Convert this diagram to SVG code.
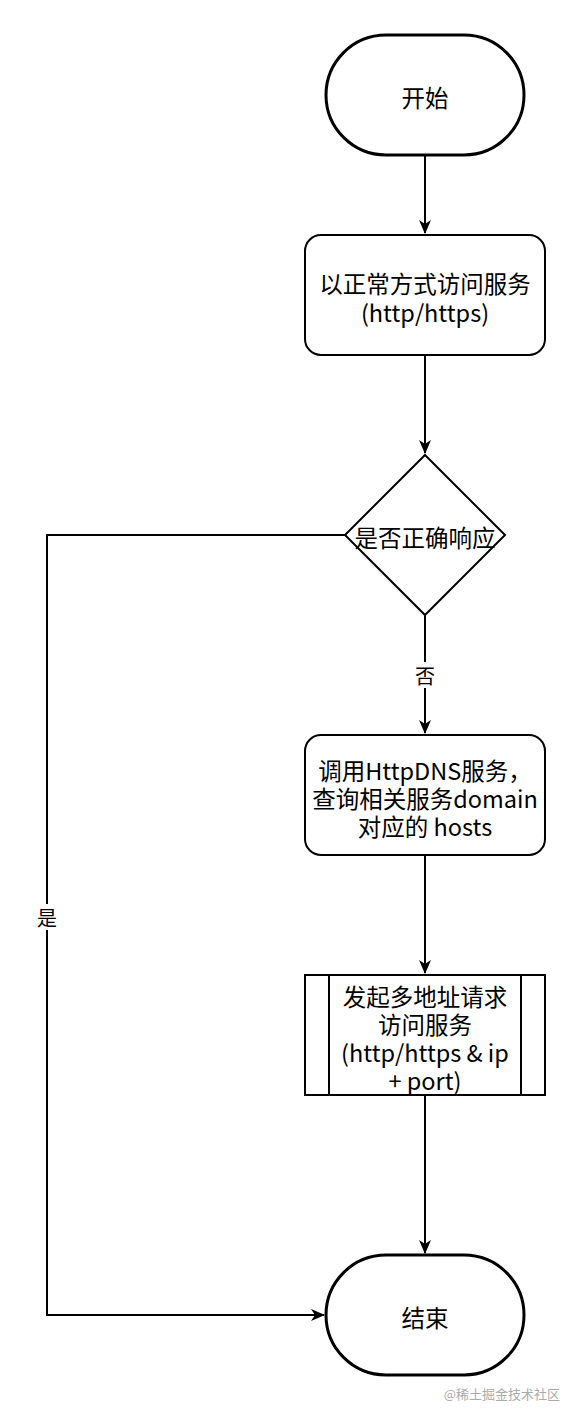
<svg xmlns="http://www.w3.org/2000/svg" width="578" height="1418" viewBox="0 0 578 1418">
<style>
.term{fill:#fff;stroke:#000;stroke-width:3}
.box{fill:#fff;stroke:#000;stroke-width:2}
.edge{fill:none;stroke:#000;stroke-width:2}
text{font-family:"Noto Sans CJK SC","Noto Sans",sans-serif;font-size:23.5px;fill:#000;text-anchor:middle;dominant-baseline:central}
.lbl{font-size:20px}
.wm{font-size:13px;fill:#aaa;text-anchor:end}
</style>
<defs>
<marker id="arr" markerUnits="userSpaceOnUse" markerWidth="14" markerHeight="12" refX="13" refY="6" orient="auto">
<path d="M0,0 L14,6 L0,12 L4,6 z" fill="#000"/>
</marker>
</defs>
<rect width="578" height="1418" fill="#fff"/>
<g id="connectors">
<path class="edge" d="M425,155 V233" marker-end="url(#arr)"/>
<path class="edge" d="M425,355 V453" marker-end="url(#arr)"/>
<path class="edge" d="M425,615 V733" marker-end="url(#arr)"/>
<path class="edge" d="M425,855 V973" marker-end="url(#arr)"/>
<path class="edge" d="M425,1095 V1253" marker-end="url(#arr)"/>
<path class="edge" d="M345,535 H47 V1315 H324" marker-end="url(#arr)"/>
<rect x="413" y="662" width="24" height="26" fill="#fff"/>
<text class="lbl" x="425" y="675">否</text>
<rect x="35" y="904" width="24" height="26" fill="#fff"/>
<text class="lbl" x="47" y="917">是</text>
</g>
<g id="start">
<rect class="term" x="326" y="35" width="198" height="120" rx="60" ry="60"/>
<text x="425" y="97">开始</text>
</g>
<g id="access">
<rect class="box" x="305" y="235" width="240" height="120" rx="16" ry="16"/>
<text x="425" y="283">以正常方式访问服务</text>
<text x="425" y="312">(http/https)</text>
</g>
<g id="decision">
<polygon class="box" points="425,455 505,535 425,615 345,535"/>
<text x="425" y="537">是否正确响应</text>
</g>
<g id="httpdns">
<rect class="box" x="305" y="735" width="240" height="120" rx="16" ry="16"/>
<text x="425" y="770">调用HttpDNS服务，</text>
<text x="425" y="798">查询相关服务domain</text>
<text x="425" y="826">对应的 hosts</text>
</g>
<g id="multi">
<rect class="box" x="305" y="975" width="240" height="120"/>
<line class="box" x1="329" y1="975" x2="329" y2="1095"/>
<line class="box" x1="521" y1="975" x2="521" y2="1095"/>
<text x="425" y="996">发起多地址请求</text>
<text x="425" y="1024">访问服务</text>
<text x="425" y="1052">(http/https &amp; ip</text>
<text x="425" y="1080">+ port)</text>
</g>
<g id="end">
<rect class="term" x="326" y="1255" width="198" height="120" rx="60" ry="60"/>
<text x="425" y="1317">结束</text>
</g>
<text class="wm" x="560" y="1393">@稀土掘金技术社区</text>
</svg>
